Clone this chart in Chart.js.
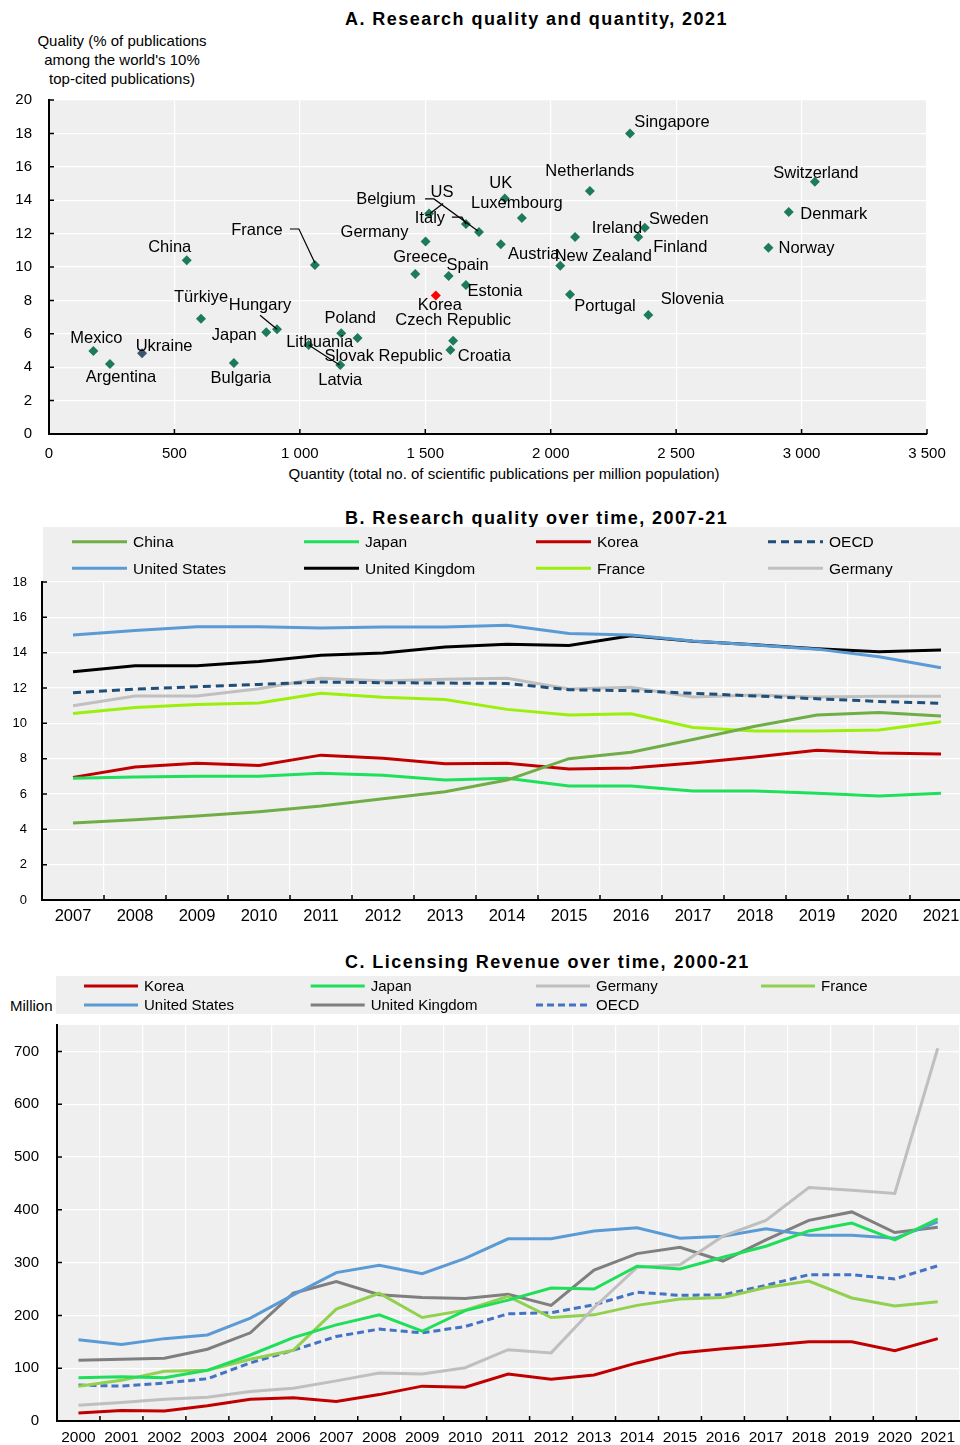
<!DOCTYPE html>
<html>
<head>
<meta charset="utf-8">
<script src="https://cdn.jsdelivr.net/npm/chart.js@4.4.1/dist/chart.umd.min.js"></script>
<style>
  html, body { margin: 0; padding: 0; background: #fff; overflow: hidden; }
  body { width: 960px; height: 1445px; position: relative; font-family: "Liberation Sans", Arial, sans-serif; color: #000; }
  .abs { position: absolute; }
  .title { font-weight: bold; font-size: 18px; letter-spacing: 1.45px; line-height: 20px; white-space: nowrap; }
  .lbl { font-size: 15px; line-height: 19px; white-space: nowrap; }
  canvas { display: block; }
</style>
</head>
<body>
<div class="abs title" style="left:345px;top:9px">A. Research quality and quantity, 2021</div>
<div class="abs lbl" style="left:22px;top:31px;width:200px;text-align:center">Quality (% of publications<br>among the world's 10%<br>top-cited publications)</div>
<div class="abs lbl" style="left:204px;top:464px;width:600px;text-align:center">Quantity (total no. of scientific publications per million population)</div>
<div class="abs title" style="left:345px;top:508px">B. Research quality over time, 2007-21</div>
<div class="abs title" style="left:345px;top:952px">C. Licensing Revenue over time, 2000-21</div>
<div class="abs lbl" style="left:10px;top:996px">Million</div>

<canvas id="chartA" class="abs" style="left:0;top:90px" width="960" height="400"></canvas>
<canvas id="chartB" class="abs" style="left:0;top:500px" width="975" height="440"></canvas>
<canvas id="chartC" class="abs" style="left:0;top:940px" width="962" height="505"></canvas>

<script>
// ---- A. quality vs quantity, 2021 ----
const countries = ["Singapore", "Netherlands", "UK", "Luxembourg", "Switzerland", "Denmark", "Sweden",
  "Ireland", "Finland", "Austria", "New Zealand", "Norway", "Portugal", "Slovenia", "US", "Belgium",
  "Italy", "Germany", "Greece", "Spain", "Estonia", "Korea", "Czech Republic", "Croatia", "France",
  "China", "Türkiye", "Hungary", "Japan", "Poland", "Slovak Republic", "Lithuania", "Latvia",
  "Mexico", "Ukraine", "Argentina", "Bulgaria"];
const quantity = [2316, 2156, 1817, 1885, 3053, 2949, 2375, 2097, 2349, 1801, 2038, 2868, 2077, 2389,
  1515, 1714, 1662, 1501, 1460, 1593, 1662, 1542, 1611, 1600, 1060, 549, 606, 909, 866, 1165, 1230,
  1035, 1161, 177, 371, 243, 737];
const quality = [18.0, 14.55, 14.1, 12.93, 15.1, 13.3, 12.35, 11.8, 11.8, 11.36, 10.08, 11.16, 8.36,
  7.13, 13.2, 12.1, 12.57, 11.52, 9.58, 9.46, 8.92, 8.3, 5.59, 5.03, 10.12, 10.4, 6.9, 6.27, 6.09,
  6.03, 5.75, 5.33, 4.13, 4.97, 4.83, 4.19, 4.25];

// ---- B. research quality over time ----
const yearsB = ["2007", "2008", "2009", "2010", "2011", "2012", "2013", "2014", "2015", "2016", "2017", "2018", "2019", "2020", "2021"];
const chinaB = [4.36, 4.54, 4.75, 5.0, 5.32, 5.73, 6.13, 6.79, 8.0, 8.36, 9.09, 9.83, 10.47, 10.62, 10.41];
const japanB = [6.89, 6.96, 7.0, 7.0, 7.17, 7.06, 6.79, 6.89, 6.45, 6.45, 6.17, 6.17, 6.04, 5.89, 6.04];
const koreaB = [6.94, 7.53, 7.74, 7.62, 8.2, 8.02, 7.71, 7.74, 7.41, 7.47, 7.75, 8.09, 8.47, 8.32, 8.26];
const oecdB = [11.73, 11.94, 12.07, 12.2, 12.34, 12.3, 12.28, 12.26, 11.9, 11.85, 11.7, 11.55, 11.39, 11.24, 11.13];
const usB = [15.0, 15.25, 15.47, 15.47, 15.4, 15.45, 15.45, 15.55, 15.09, 15.0, 14.66, 14.43, 14.2, 13.77, 13.15];
const ukB = [12.92, 13.26, 13.26, 13.5, 13.85, 13.98, 14.32, 14.47, 14.41, 14.96, 14.64, 14.45, 14.22, 14.05, 14.15];
const franceB = [10.56, 10.9, 11.07, 11.15, 11.7, 11.48, 11.35, 10.79, 10.47, 10.54, 9.77, 9.56, 9.56, 9.62, 10.09];
const germanyB = [11.0, 11.55, 11.55, 11.96, 12.55, 12.4, 12.5, 12.55, 11.94, 12.04, 11.49, 11.6, 11.49, 11.53, 11.53];

// ---- C. licensing revenue (million) ----
const yearsC = ["2000", "2001", "2002", "2003", "2004", "2006", "2007", "2008", "2009", "2010", "2011",
  "2012", "2013", "2014", "2015", "2016", "2017", "2018", "2019", "2020", "2021"];
const koreaC = [15, 20, 19, 29, 41, 44, 37, 50, 66, 64, 89, 79, 87, 110, 129, 137, 143, 150, 150, 133, 156];
const japanC = [82, 84, 82, 96, 125, 158, 182, 201, 170, 209, 229, 252, 250, 293, 288, 310, 331, 360, 375, 343, 383];
const germanyC = [30, 35, 41, 45, 56, 62, 76, 91, 89, 101, 135, 129, 215, 291, 296, 350, 380, 442, 437, 431, 706];
const franceC = [66, 77, 94, 96, 117, 134, 212, 242, 196, 210, 236, 196, 201, 219, 231, 234, 253, 265, 233, 218, 226];
const usC = [154, 145, 156, 163, 195, 239, 281, 295, 279, 308, 345, 345, 360, 366, 346, 350, 364, 352, 352, 346, 377];
const ukC = [115, 117, 119, 136, 167, 242, 264, 239, 234, 232, 240, 219, 286, 317, 329, 303, 343, 380, 396, 357, 367];
const oecdC = [68, 66, 72, 80, 110, 134, 160, 174, 167, 179, 203, 205, 220, 244, 238, 239, 257, 277, 277, 269, 294];

// label placement for panel A (pixel offsets from the marker)
const labelPos = {
  "Singapore": [42, -11], "Netherlands": [0, -20], "UK": [-4, -15], "Luxembourg": [-5, -15],
  "Switzerland": [1, -8], "Denmark": [45, 3], "Sweden": [34, -8], "Ireland": [42, -8],
  "Finland": [42, 11], "Austria": [33, 10], "New Zealand": [43, -9], "Norway": [38, 1],
  "Portugal": [35, 12], "Slovenia": [44, -15], "US": [13, -21], "Belgium": [-93, -32],
  "Italy": [-36, -6], "Germany": [-51, -9], "Greece": [5, -17], "Spain": [19, -11],
  "Estonia": [29, 6], "Korea": [4, 10], "Czech Republic": [0, -20], "Croatia": [34, 6],
  "France": [-58, -35], "China": [-17, -13], "Türkiye": [0, -21], "Hungary": [-17, -24],
  "Japan": [-32, 3], "Poland": [9, -15], "Slovak Republic": [26, 18], "Lithuania": [11, -3],
  "Latvia": [0, 15], "Mexico": [3, -13], "Ukraine": [22, -7], "Argentina": [11, 13], "Bulgaria": [7, 15]
};
const leaders = {
  "France": [[-25, -36], [-16, -36], [0, -2]],
  "Belgium": [[-54, -33], [-45, -33], [-1, -1]],
  "US": [[14, -10], [1, 0]],
  "Italy": [[-14, -7], [-4, -7], [0, 0]],
  "Hungary": [[-17, -14], [0, 0]],
  "Lithuania": [[0, 0], [31, 20]]
};

const FONT = "'Liberation Sans', Arial, sans-serif";
Chart.defaults.font.family = FONT;
Chart.defaults.color = "#000";

const plotBg = {
  id: "plotBg",
  beforeDraw(chart) {
    const { ctx, chartArea: a } = chart;
    ctx.save();
    ctx.fillStyle = "#efefef";
    ctx.fillRect(a.left, a.top, a.right - a.left, a.bottom - a.top);
    ctx.restore();
  }
};

// small tick marks pointing into the plot
const innerTicks = {
  id: "innerTicks",
  afterDraw(chart, args, opts) {
    const { ctx, chartArea: a } = chart;
    const len = opts.len || 5;
    const x = chart.scales.x, y = chart.scales.y;
    ctx.save();
    ctx.strokeStyle = "#000";
    ctx.lineWidth = 1.5;
    ctx.beginPath();
    if (x.type === "category") {
      for (let i = 1; i < x.ticks.length; i++) {
        const px = (x.getPixelForTick(i - 1) + x.getPixelForTick(i)) / 2;
        ctx.moveTo(px, a.bottom);
        ctx.lineTo(px, a.bottom - len);
      }
    } else {
      x.ticks.forEach(t => {
        const px = x.getPixelForValue(t.value);
        ctx.moveTo(px, a.bottom);
        ctx.lineTo(px, a.bottom - len);
      });
    }
    y.ticks.forEach(t => {
      const py = y.getPixelForValue(t.value);
      ctx.moveTo(a.left, py);
      ctx.lineTo(a.left + len, py);
    });
    ctx.stroke();
    ctx.restore();
  }
};

const pointLabels = {
  id: "pointLabels",
  afterDatasetsDraw(chart, args, opts) {
    const ctx = chart.ctx;
    const meta = chart.getDatasetMeta(0);
    ctx.save();
    ctx.font = opts.font;
    ctx.fillStyle = "#000";
    ctx.strokeStyle = "#000";
    ctx.lineWidth = 1.2;
    ctx.textAlign = "center";
    ctx.textBaseline = "middle";
    meta.data.forEach((pt, i) => {
      const name = countries[i];
      const pos = labelPos[name] || [0, -14];
      const lead = leaders[name];
      if (lead) {
        ctx.beginPath();
        lead.forEach(([dx, dy], k) => k ? ctx.lineTo(pt.x + dx, pt.y + dy) : ctx.moveTo(pt.x + dx, pt.y + dy));
        ctx.stroke();
      }
      ctx.fillText(name, pt.x + pos[0], pt.y + pos[1]);
    });
    ctx.restore();
  }
};

// legend in a grey band, fixed columns
const gridLegend = {
  id: "gridLegend",
  afterDraw(chart, args, o) {
    const ctx = chart.ctx;
    ctx.save();
    ctx.fillStyle = "#efefef";
    ctx.fillRect(o.x0, o.y0, chart.width - o.x0, o.y1 - o.y0);
    ctx.font = o.font;
    ctx.textAlign = "left";
    ctx.textBaseline = "middle";
    chart.data.datasets.forEach((ds, i) => {
      const cx = o.cols[i % o.cols.length];
      const cy = o.rows[Math.floor(i / o.cols.length)];
      ctx.beginPath();
      ctx.strokeStyle = ds.borderColor;
      ctx.lineWidth = 3;
      ctx.setLineDash(ds.borderDash || []);
      ctx.moveTo(cx, cy);
      ctx.lineTo(cx + o.lineLen, cy);
      ctx.stroke();
      ctx.setLineDash([]);
      ctx.fillStyle = "#000";
      ctx.fillText(ds.label, cx + o.lineLen + o.gap, cy + 1);
    });
    ctx.restore();
  }
};

const gridStyle = { color: "#ffffff", lineWidth: 1.2, drawTicks: false };
const borderStyle = { color: "#000", width: 2 };
const thousands = v => String(v).replace(/\B(?=(\d{3})+(?!\d))/g, " ");
// keep the y labels from pushing the plot area down
const noPad = s => { s.paddingTop = 0; s.paddingBottom = 0; };

new Chart(document.getElementById("chartA"), {
  type: "scatter",
  data: {
    datasets: [{
      data: countries.map((c, i) => ({ x: quantity[i], y: quality[i] })),
      pointStyle: "rectRot",
      pointRadius: 5,
      pointBorderWidth: 0,
      pointBackgroundColor: countries.map(c => c === "Korea" ? "#ff0000" : c === "Ukraine" ? "#3f5470" : "#1d7a5c")
    }]
  },
  options: {
    responsive: false,
    animation: false,
    layout: { padding: { top: 10, right: 33, bottom: 0, left: 0 } },
    plugins: { legend: { display: false }, tooltip: { enabled: false }, innerTicks: { len: 5 },
      pointLabels: { font: "16.5px " + FONT } },
    scales: {
      x: {
        type: "linear", min: 0, max: 3500,
        ticks: { stepSize: 500, padding: 11, font: { size: 15 }, callback: v => thousands(v) },
        grid: gridStyle, border: borderStyle,
        afterFit: s => { s.height = 56; }
      },
      y: {
        min: 0, max: 20,
        ticks: { stepSize: 2, padding: 17, font: { size: 15 } },
        grid: gridStyle, border: borderStyle,
        afterFit: s => { s.width = 49; noPad(s); }
      }
    }
  },
  plugins: [plotBg, innerTicks, pointLabels]
});

const line = (label, data, color, dash) => ({
  label, data, borderColor: color, backgroundColor: color, borderWidth: 3,
  borderDash: dash || [], pointRadius: 0, tension: 0, fill: false
});

new Chart(document.getElementById("chartB"), {
  type: "line",
  data: {
    labels: yearsB,
    datasets: [
      line("China", chinaB, "#70ad47"),
      line("Japan", japanB, "#1ee05a"),
      line("Korea", koreaB, "#c00000"),
      line("OECD", oecdB, "#1f4e79", [8, 5]),
      line("United States", usB, "#5b9bd5"),
      line("United Kingdom", ukB, "#000000"),
      line("France", franceB, "#9cef0c"),
      line("Germany", germanyB, "#c0c0c0")
    ]
  },
  options: {
    responsive: false,
    animation: false,
    layout: { padding: { top: 82, right: 3, bottom: 0, left: 0 } },
    plugins: {
      legend: { display: false }, tooltip: { enabled: false }, innerTicks: { len: 5 },
      gridLegend: { x0: 43, y0: 27, y1: 81, rows: [41.7, 68.3], cols: [72, 304, 536, 768], lineLen: 55, gap: 6, font: "15.5px " + FONT }
    },
    scales: {
      x: {
        offset: true,
        grid: Object.assign({ offset: true }, gridStyle), border: borderStyle,
        ticks: { padding: 7, font: { size: 16.5 }, autoSkip: false, maxRotation: 0 },
        afterFit: s => { s.height = 40; }
      },
      y: {
        min: 0, max: 18,
        ticks: { stepSize: 2, padding: 15, font: { size: 13 } },
        grid: gridStyle, border: borderStyle,
        afterFit: s => { s.width = 42; noPad(s); }
      }
    }
  },
  plugins: [plotBg, innerTicks, gridLegend]
});

new Chart(document.getElementById("chartC"), {
  type: "line",
  data: {
    labels: yearsC,
    datasets: [
      line("Korea", koreaC, "#c00000"),
      line("Japan", japanC, "#1fdf5a"),
      line("Germany", germanyC, "#bfbfbf"),
      line("France", franceC, "#92d050"),
      line("United States", usC, "#5b9bd5"),
      line("United Kingdom", ukC, "#7f7f7f"),
      line("OECD", oecdC, "#4472c4", [7, 4])
    ]
  },
  options: {
    responsive: false,
    animation: false,
    layout: { padding: { top: 85, right: 0, bottom: 0, left: 0 } },
    plugins: {
      legend: { display: false }, tooltip: { enabled: false }, innerTicks: { len: 5 },
      gridLegend: { x0: 56, y0: 36, y1: 74, rows: [46, 65], cols: [84, 310.7, 536, 761], lineLen: 54, gap: 6, font: "15px " + FONT }
    },
    scales: {
      x: {
        offset: true,
        grid: Object.assign({ offset: true }, gridStyle), border: borderStyle,
        ticks: { padding: 7, font: { size: 15.5 }, autoSkip: false, maxRotation: 0 },
        afterFit: s => { s.height = 24; }
      },
      y: {
        min: 0, max: 750,
        ticks: { stepSize: 100, padding: 18, font: { size: 15 } },
        afterBuildTicks: s => { s.ticks = s.ticks.filter(t => t.value % 100 === 0); },
        grid: gridStyle, border: borderStyle,
        afterFit: s => { s.width = 57; noPad(s); }
      }
    }
  },
  plugins: [plotBg, innerTicks, gridLegend]
});
</script>
</body>
</html>
